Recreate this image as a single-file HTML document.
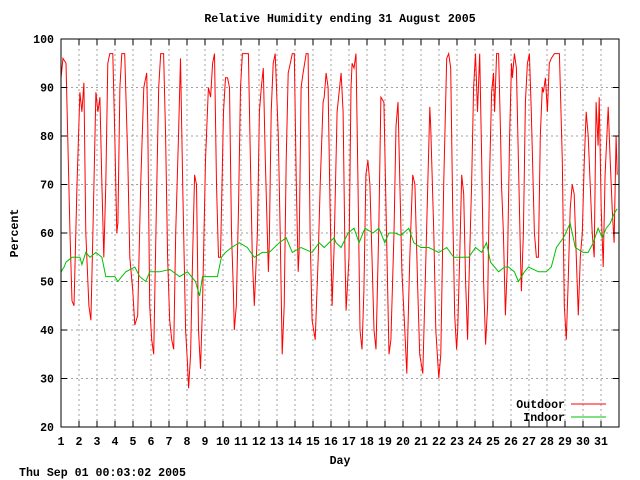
<!DOCTYPE html>
<html><head><meta charset="utf-8"><style>
body{margin:0;background:#fff}
svg{display:block}
text{font-family:"Liberation Mono",monospace;font-size:11.6px;font-weight:bold;fill:#000}
</style></head><body>
<svg id="chart" width="640" height="480" viewBox="0 0 640 480" xmlns="http://www.w3.org/2000/svg">
<rect width="640" height="480" fill="#fff"/>
<g id="grid"></g>
<g id="series"></g>
<rect x="61" y="39" width="558" height="388" fill="none" stroke="#000" stroke-width="1"/>
<g id="ticks"></g>
<text x="340" y="22" text-anchor="middle">Relative Humidity ending 31 August 2005</text>
<text x="18" y="233" text-anchor="middle" transform="rotate(-90 18 233)">Percent</text>
<text x="340" y="464" text-anchor="middle">Day</text>
<text x="19" y="476">Thu Sep 01 00:03:02 2005</text>
<g>
<text x="565" y="408" text-anchor="end">Outdoor</text>
<line x1="571" y1="404" x2="606" y2="404" stroke="#ff0000" stroke-width="1"/>
<text x="565" y="421" text-anchor="end">Indoor</text>
<line x1="571" y1="417" x2="606" y2="417" stroke="#00c000" stroke-width="1"/>
</g>
</svg>
<script>
const xTicks=[1,2,3,4,5,6,7,8,9,10,11,12,13,14,15,16,17,18,19,20,21,22,23,24,25,26,27,28,29,30,31];
const yTicks=[20,30,40,50,60,70,80,90,100];
const outdoorDays=[1.00,1.11,1.28,1.50,1.61,1.72,1.89,2.05,2.16,2.27,2.38,2.55,2.66,2.77,2.94,3.05,3.16,3.27,3.38,3.49,3.60,3.71,3.88,3.99,4.10,4.16,4.27,4.38,4.54,4.71,4.82,4.99,5.10,5.26,5.43,5.60,5.76,5.82,5.93,6.04,6.15,6.32,6.43,6.54,6.70,6.81,6.92,7.04,7.15,7.26,7.37,7.53,7.64,7.76,7.92,8.03,8.09,8.20,8.31,8.42,8.53,8.64,8.75,8.86,9.03,9.19,9.31,9.42,9.53,9.64,9.75,9.86,10.03,10.14,10.25,10.36,10.47,10.58,10.63,10.74,10.86,10.97,11.08,11.24,11.41,11.52,11.63,11.74,11.91,12.02,12.13,12.24,12.35,12.46,12.52,12.57,12.68,12.79,12.90,13.07,13.18,13.29,13.40,13.51,13.62,13.74,13.85,13.96,14.07,14.18,14.23,14.34,14.45,14.62,14.73,14.84,14.95,15.12,15.29,15.40,15.56,15.62,15.73,15.84,15.95,16.06,16.17,16.34,16.45,16.56,16.67,16.78,16.84,17.00,17.11,17.17,17.28,17.39,17.50,17.61,17.72,17.83,17.94,18.05,18.16,18.28,18.39,18.50,18.66,18.77,18.94,19.11,19.22,19.33,19.50,19.61,19.72,19.83,19.94,20.10,20.21,20.38,20.54,20.66,20.82,20.93,21.10,21.27,21.49,21.54,21.71,21.82,21.99,22.10,22.26,22.43,22.54,22.65,22.76,22.87,22.98,23.04,23.15,23.26,23.37,23.48,23.59,23.65,23.81,23.92,24.03,24.14,24.26,24.37,24.48,24.59,24.70,24.81,24.92,25.03,25.09,25.20,25.31,25.42,25.47,25.58,25.69,25.81,25.92,26.03,26.08,26.19,26.30,26.41,26.53,26.58,26.69,26.80,26.91,27.02,27.13,27.30,27.41,27.52,27.63,27.74,27.80,27.91,28.02,28.13,28.24,28.41,28.57,28.69,28.85,28.96,29.07,29.18,29.29,29.40,29.51,29.63,29.74,29.85,29.96,30.07,30.18,30.29,30.40,30.51,30.62,30.73,30.84,30.90,31.01,31.12,31.23,31.40,31.51,31.62,31.73,31.84,31.90];
const outdoorValues=[92,96,95,60,46,45,70,89,85,91,60,45,42,60,89,85,88,70,55,70,95,97,97,80,60,62,90,97,97,75,55,48,41,43,70,90,93,82,45,38,35,70,90,97,97,80,55,42,38,36,60,80,96,70,40,33,28,35,55,72,70,40,32,45,75,90,88,95,97,70,55,55,85,92,92,90,60,48,40,45,65,90,97,97,97,75,55,45,60,85,90,94,75,60,52,58,85,95,97,80,60,35,45,75,93,95,97,97,70,52,56,90,93,97,97,60,42,38,55,70,87,88,93,90,65,45,57,85,89,93,85,55,44,55,90,95,94,97,70,40,36,48,72,75,70,55,40,36,62,88,87,55,35,38,60,82,87,70,52,40,31,55,72,70,48,35,31,55,86,82,60,40,30,35,70,96,97,94,65,43,36,40,55,72,68,50,38,48,70,90,97,85,97,75,50,37,45,72,89,93,85,97,97,80,70,60,43,55,80,95,92,97,94,75,55,48,60,87,95,97,85,60,55,55,80,90,89,92,85,95,96,97,97,97,75,45,38,50,65,70,68,55,43,55,60,75,85,80,70,60,55,87,78,88,65,53,72,86,75,65,58,80,72];
const indoorDays=[1.00,1.17,1.28,1.61,2.05,2.16,2.38,2.61,2.94,3.27,3.49,3.99,4.16,4.38,4.60,5.10,5.37,5.71,5.93,6.48,7.04,7.59,8.03,8.47,8.70,8.86,9.25,9.69,9.91,10.14,10.47,10.91,11.35,11.74,12.18,12.57,13.13,13.51,13.85,14.34,14.95,15.34,15.62,16.17,16.28,16.56,16.95,17.28,17.56,17.89,18.33,18.66,18.99,19.22,19.55,19.88,20.32,20.60,20.99,21.43,21.99,22.43,22.82,23.20,23.65,24.03,24.37,24.64,24.86,25.31,25.64,25.86,26.19,26.41,26.75,26.97,27.52,27.96,28.24,28.52,28.91,29.29,29.57,30.01,30.29,30.57,30.84,31.07,31.29,31.51,31.73,31.90];
const indoorValues=[52,53,54,55,55,53.5,56,55,56,55,51,51,50,51,52,53,51,50,52,52,52.5,51,52,50,47,51,51,51,55,56,57,58,57,55,56,56,58,59,56,57,56,58,57,59,58,57,60,61,58,61,60,61,58,60,60,59.5,61,58,57,57,56,57,55,55,55,57,56,58,54,52,53,53,52,50,52,53,52,52,53,57,59,62,57,56,56,58,61,59,61,62,64,65];

const NS="http://www.w3.org/2000/svg";
const X0=61,X1=619,Y0=427,Y1=39,DMIN=1,DMAX=32,VMIN=20,VMAX=100;
function xScale(d){return X0+(d-DMIN)/(DMAX-DMIN)*(X1-X0);}
function yScale(v){return Y0-(v-VMIN)/(VMAX-VMIN)*(Y0-Y1);}
function mk(tag,attrs,parent){const e=document.createElementNS(NS,tag);for(const k in attrs)e.setAttribute(k,attrs[k]);parent.appendChild(e);return e;}
const grid=document.getElementById('grid'),ticks=document.getElementById('ticks'),series=document.getElementById('series');
xTicks.forEach(t=>{
  const x=xScale(t);
  if(t>DMIN){const g=mk('line',{x1:x,y1:Y1,x2:x,y2:Y0,stroke:'#a0a0a0','stroke-dasharray':'2,3'},grid);
  
  }
  const tk=mk('line',{x1:x,y1:Y0,x2:x,y2:Y0-6,stroke:'#000'},ticks);
  
  
  const tk2=mk('line',{x1:x,y1:Y1,x2:x,y2:Y1+6,stroke:'#000'},ticks);
  
  
  const lb=mk('text',{x:x,y:445,'text-anchor':'middle'},ticks);lb.textContent=t;
  
  
});
yTicks.forEach(t=>{
  const y=yScale(t);
  if(t>VMIN&&t<VMAX){const g=mk('line',{x1:X0,y1:y,x2:X1,y2:y,stroke:'#a0a0a0','stroke-dasharray':'2,3'},grid);
  
  }
  const tk=mk('line',{x1:X0,y1:y,x2:X0+6,y2:y,stroke:'#000'},ticks);
  
  
  const tk2=mk('line',{x1:X1,y1:y,x2:X1-6,y2:y,stroke:'#000'},ticks);
  
  
  const lb=mk('text',{x:54,y:y+4,'text-anchor':'end'},ticks);lb.textContent=t;
  
  
});
function pathFrom(ds,vs){return ds.map((d,i)=>(i?'L':'M')+xScale(d).toFixed(1)+' '+yScale(vs[i]).toFixed(1)).join(' ');}
const pOut=mk('path',{d:pathFrom(outdoorDays,outdoorValues),fill:'none',stroke:'#ff0000','stroke-width':1},series);


const pIn=mk('path',{d:pathFrom(indoorDays,indoorValues),fill:'none',stroke:'#00c000','stroke-width':1},series);


</script>
</body></html>
